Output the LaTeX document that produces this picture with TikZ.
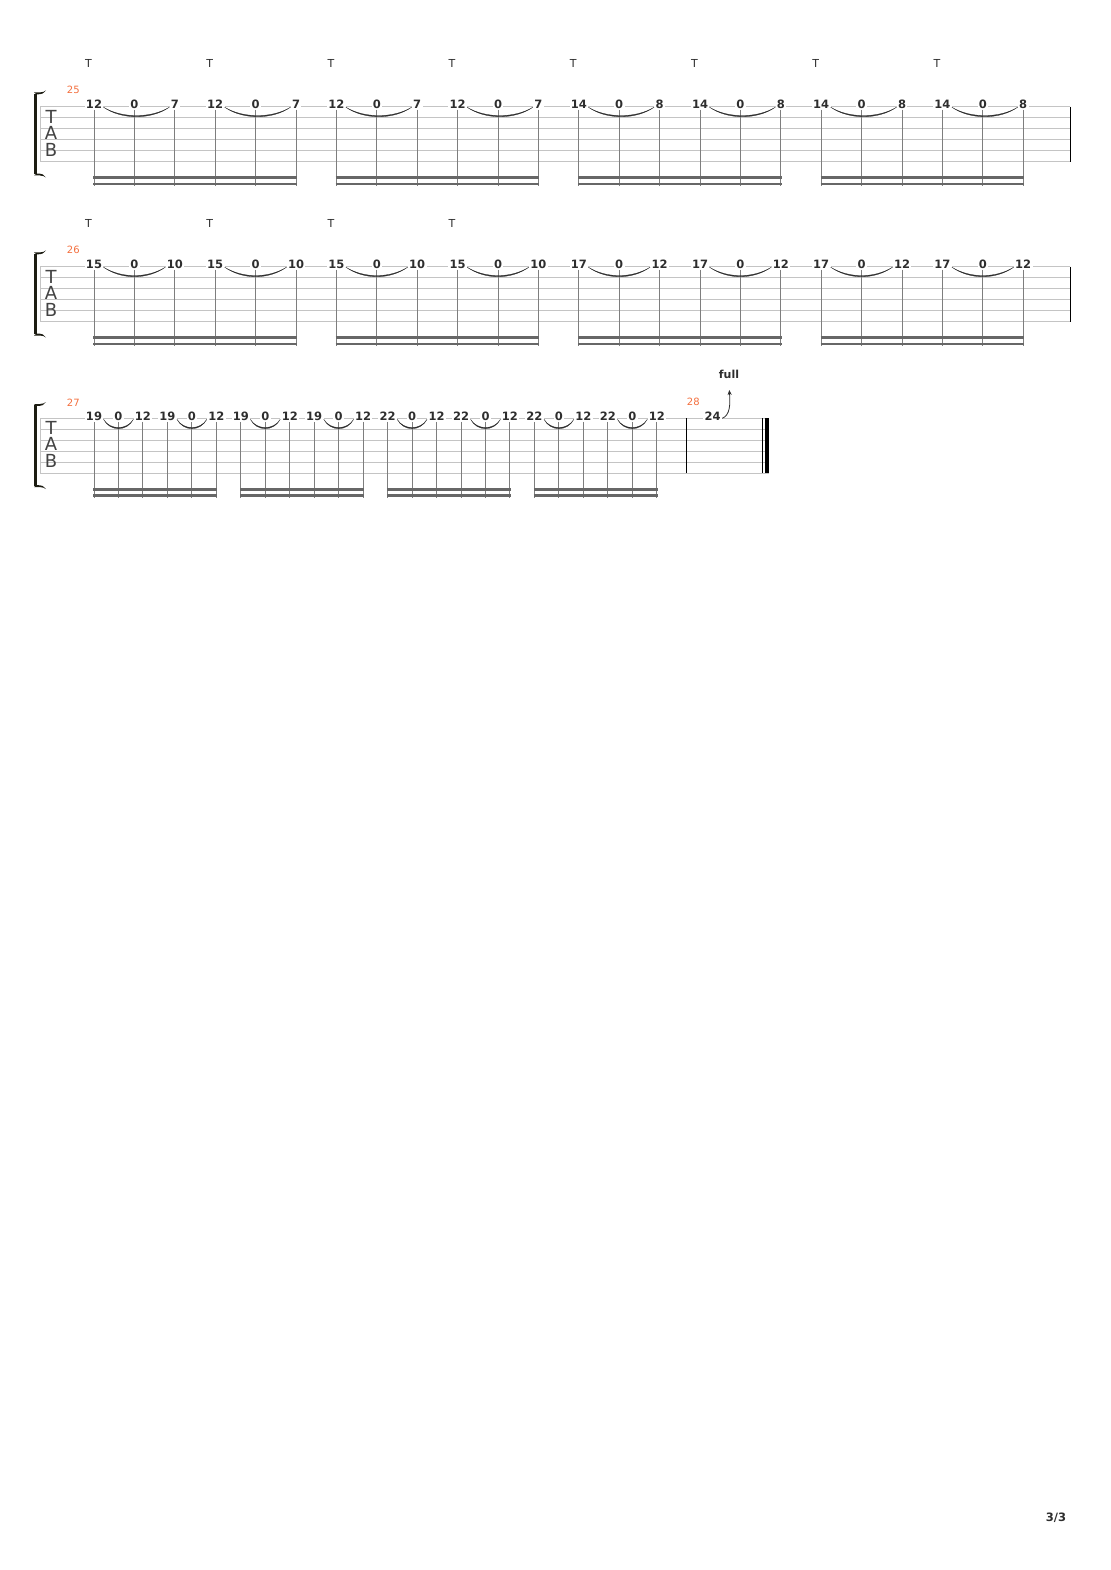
\documentclass[tikz,border=0pt]{standalone}
\usepackage{fontspec}
\setmainfont{DejaVu Sans}
\usetikzlibrary{arrows.meta}
\definecolor{staffc}{HTML}{C4C4C4}
\definecolor{stemc}{HTML}{7E7E7E}
\definecolor{beamc}{HTML}{676767}
\definecolor{numc}{HTML}{2E2E2E}
\definecolor{mnumc}{HTML}{F4703F}
\definecolor{brackc}{HTML}{1C1C12}
\newcommand\tieslur[4]{\filldraw[slurc] (#1) .. controls +(#3,#4) and +(-#3,#4) .. (#2) .. controls +(-#3,#4+1.5) and +(#3,#4+1.5) .. (#1) -- cycle;}
\newcommand\tabstaff[2]{%
  \foreach \j in {0,...,5} \draw[staffline] (40,#1+11*\j) -- (#2,#1+11*\j);
  \draw[staffline] (40,#1) -- (40,#1+55);
  \draw[brackc, line width=2.6pt] (35.3,#1-13) -- (35.3,#1+67.5);
  \fill[brackc] (34,#1-14.3) -- (40,#1-14.3) .. controls (43,#1-14.3) and (44.5,#1-15.3) .. (46,#1-16.3) .. controls (44.5,#1-13.5) and (42,#1-12.3) .. (36.6,#1-12.3) -- cycle;
  \fill[brackc] (34,#1+68.8) -- (40,#1+68.8) .. controls (43,#1+68.8) and (44.5,#1+69.8) .. (46,#1+70.8) .. controls (44.5,#1+68) and (42,#1+66.8) .. (36.6,#1+66.8) -- cycle;
  \node[tabletter] at (51,#1+10) {T};
  \node[tabletter] at (51,#1+26) {A};
  \node[tabletter] at (51,#1+43) {B};
}
\begin{document}
\begin{tikzpicture}[x=1pt,y=-1pt,
  staffline/.style={draw=staffc, line width=0.9pt},
  stem/.style={draw=stemc, line width=1pt},
  beam/.style={draw=beamc, line width=2.5pt, shorten <=-0.7pt, shorten >=-0.7pt},
  fret/.style={font=\fontsize{11.5}{11.5}\selectfont\bfseries, text=numc, fill=white, inner xsep=1.3pt, inner ysep=1pt},
  tmark/.style={font=\fontsize{11}{11}\selectfont, text=numc, inner sep=0pt},
  mnum/.style={font=\fontsize{10}{10}\selectfont, text=mnumc, inner sep=0pt},
  tabletter/.style={font=\fontsize{18}{18}\selectfont, text=numc!90, inner sep=0pt},
  slurc/.style={fill=numc, draw=numc, line width=0.3pt},
  barline/.style={draw=black, line width=1pt}
]
\fill[white] (0,0) rectangle (1110,1570);
\useasboundingbox (0,0) rectangle (1110,1570);

% ---------------- system 1 ----------------
\tabstaff{106.7}{1070}
\draw[barline] (1070,106.7) -- (1070,161.7);
\node[mnum] (m25) at (73.3,90) {25};
\foreach \k in {0,...,7} \node[tmark] (ta\k) at ({88.5+121.2*\k},63) {T};
\foreach \f [count=\i from 0] in {12,0,7,12,0,7,12,0,7,12,0,7,14,0,8,14,0,8,14,0,8,14,0,8}
  \node[fret] (a\i) at ({94+40.4*\i},104.2) {\f};
\foreach \i in {0,...,23} \draw[stem] (a\i.south) -- (a\i.south |- 0,186);
\foreach \g in {0,6,12,18} {
  \pgfmathtruncatemacro\e{\g+5}
  \draw[beam] (a\g.south |- 0,177.7) -- (a\e.south |- 0,177.7);
  \draw[beam] (a\g.south |- 0,183.9) -- (a\e.south |- 0,183.9);
}
\foreach \k in {0,...,7} {
  \pgfmathtruncatemacro\s{3*\k}\pgfmathtruncatemacro\e{3*\k+2}
  \tieslur{[yshift=-3pt]a\s.east}{[yshift=-3pt]a\e.west}{18}{11.2}
}

% ---------------- system 2 ----------------
\tabstaff{266.7}{1070}
\draw[barline] (1070,266.7) -- (1070,321.7);
\node[mnum] (m26) at (73.3,250) {26};
\foreach \k in {0,...,3} \node[tmark] (tb\k) at ({88.5+121.2*\k},223.3) {T};
\foreach \f [count=\i from 0] in {15,0,10,15,0,10,15,0,10,15,0,10,17,0,12,17,0,12,17,0,12,17,0,12}
  \node[fret] (b\i) at ({94+40.4*\i},264.2) {\f};
\foreach \i in {0,...,23} \draw[stem] (b\i.south) -- (b\i.south |- 0,346);
\foreach \g in {0,6,12,18} {
  \pgfmathtruncatemacro\e{\g+5}
  \draw[beam] (b\g.south |- 0,337.7) -- (b\e.south |- 0,337.7);
  \draw[beam] (b\g.south |- 0,343.9) -- (b\e.south |- 0,343.9);
}
\foreach \k in {0,...,7} {
  \pgfmathtruncatemacro\s{3*\k}\pgfmathtruncatemacro\e{3*\k+2}
  \tieslur{[yshift=-3pt]b\s.east}{[yshift=-3pt]b\e.west}{18}{11.2}
}

% ---------------- system 3 ----------------
\tabstaff{418.3}{769}
\draw[barline] (686.3,418.3) -- (686.3,473.3);
\draw[barline] (762,418.3) -- (762,473.3);
\draw[draw=black, line width=3.5pt] (767,418.3) -- (767,473.3);
\node[mnum] (m27) at (73.3,402.3) {27};
\node[mnum] (m28) at (693.3,402.3) {28};
\foreach \f [count=\i from 0] in {19,0,12,19,0,12,19,0,12,19,0,12,22,0,12,22,0,12,22,0,12,22,0,12}
  \node[fret] (c\i) at ({94+24.47*\i},416.3) {\f};
\foreach \i in {0,...,23} \draw[stem] (c\i.south) -- (c\i.south |- 0,497.5);
\foreach \g in {0,6,12,18} {
  \pgfmathtruncatemacro\e{\g+5}
  \draw[beam] (c\g.south |- 0,489.3) -- (c\e.south |- 0,489.3);
  \draw[beam] (c\g.south |- 0,495.5) -- (c\e.south |- 0,495.5);
}
\foreach \k in {0,...,7} {
  \pgfmathtruncatemacro\s{3*\k}\pgfmathtruncatemacro\e{3*\k+2}
  \tieslur{[yshift=-3pt]c\s.east}{[yshift=-3pt]c\e.west}{6.5}{11}
}
\node[fret] (d) at (712.7,416.3) {24};
\node[font=\fontsize{11}{11}\selectfont\bfseries, text=numc, inner sep=0pt] (full) at (729,374.5) {full};
\coordinate (bendtip) at (729.3,390);
\draw[numc, line width=0.8pt, -{Stealth[length=5pt,width=4.2pt]}] ([yshift=-2pt]d.east) .. controls +(8,-3) and +(1,14) .. (bendtip);

% page number
\node[font=\fontsize{11.5}{11.5}\selectfont\bfseries, text=numc, inner sep=0pt] (pg) at (1056,1518) {3/3};
\end{tikzpicture}
\end{document}
